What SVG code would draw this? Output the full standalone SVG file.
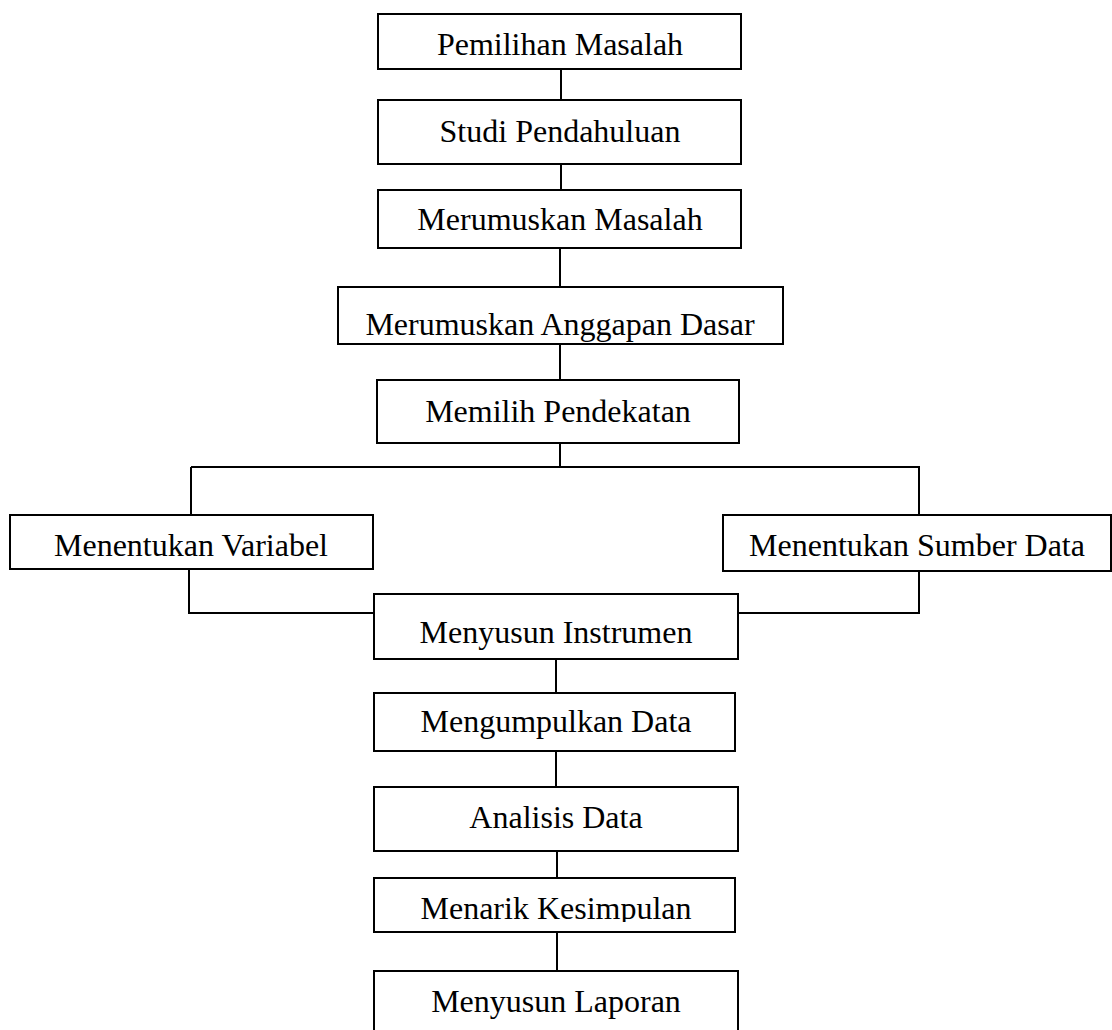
<svg xmlns="http://www.w3.org/2000/svg" width="1112" height="1030" viewBox="0 0 1112 1030">
<style>
.box{fill:#fff;stroke:#000;stroke-width:2}
.lbl{font-family:"Liberation Serif","Times New Roman",serif;font-size:32px;fill:#000;text-anchor:middle}
.con{fill:none;stroke:#000;stroke-width:2}
</style>
<defs>
<clipPath id="clipK"><rect x="374" y="878" width="364" height="44"/></clipPath>
</defs>
<rect width="1112" height="1030" fill="#fff"/>
<g id="connectors">
<line class="con" x1="561" y1="69" x2="561" y2="100"/>
<line class="con" x1="561" y1="164" x2="561" y2="190"/>
<line class="con" x1="560" y1="248" x2="560" y2="287"/>
<line class="con" x1="560" y1="344" x2="560" y2="380"/>
<line class="con" x1="560" y1="443" x2="560" y2="467"/>
<line class="con" x1="191" y1="467" x2="920" y2="467"/>
<line class="con" x1="191" y1="467" x2="191" y2="515"/>
<line class="con" x1="919" y1="467" x2="919" y2="515"/>
<polyline class="con" points="189,569 189,613 374,613"/>
<polyline class="con" points="919,571 919,613 738,613"/>
<line class="con" x1="556" y1="659" x2="556" y2="693"/>
<line class="con" x1="556" y1="751" x2="556" y2="787"/>
<line class="con" x1="557" y1="851" x2="557" y2="878"/>
<line class="con" x1="557" y1="932" x2="557" y2="971"/>
</g>
<g id="n1"><rect class="box" x="378" y="14" width="363" height="55"/><text class="lbl" x="560" y="55">Pemilihan Masalah</text></g>
<g id="n2"><rect class="box" x="378" y="100" width="363" height="64"/><text class="lbl" x="560" y="142">Studi Pendahuluan</text></g>
<g id="n3"><rect class="box" x="378" y="190" width="363" height="58"/><text class="lbl" x="560" y="230">Merumuskan Masalah</text></g>
<g id="n4"><rect class="box" x="338" y="287" width="445" height="57"/><text class="lbl" x="560" y="335">Merumuskan Anggapan Dasar</text></g>
<g id="n5"><rect class="box" x="377" y="380" width="362" height="63"/><text class="lbl" x="558" y="422">Memilih Pendekatan</text></g>
<g id="n6"><rect class="box" x="10" y="515" width="363" height="54"/><text class="lbl" x="191" y="556">Menentukan Variabel</text></g>
<g id="n7"><rect class="box" x="723" y="515" width="388" height="56"/><text class="lbl" x="917" y="556">Menentukan Sumber Data</text></g>
<g id="n8"><rect class="box" x="374" y="594" width="364" height="65"/><text class="lbl" x="556" y="643">Menyusun Instrumen</text></g>
<g id="n9"><rect class="box" x="374" y="693" width="361" height="58"/><text class="lbl" x="556" y="732">Mengumpulkan Data</text></g>
<g id="n10"><rect class="box" x="374" y="787" width="364" height="64"/><text class="lbl" x="556" y="828">Analisis Data</text></g>
<g id="n11"><rect class="box" x="374" y="878" width="361" height="54"/><text class="lbl" x="556" y="919" clip-path="url(#clipK)">Menarik Kesimpulan</text></g>
<g id="n12"><rect class="box" x="374" y="971" width="364" height="70"/><text class="lbl" x="556" y="1012">Menyusun Laporan</text></g>
</svg>
